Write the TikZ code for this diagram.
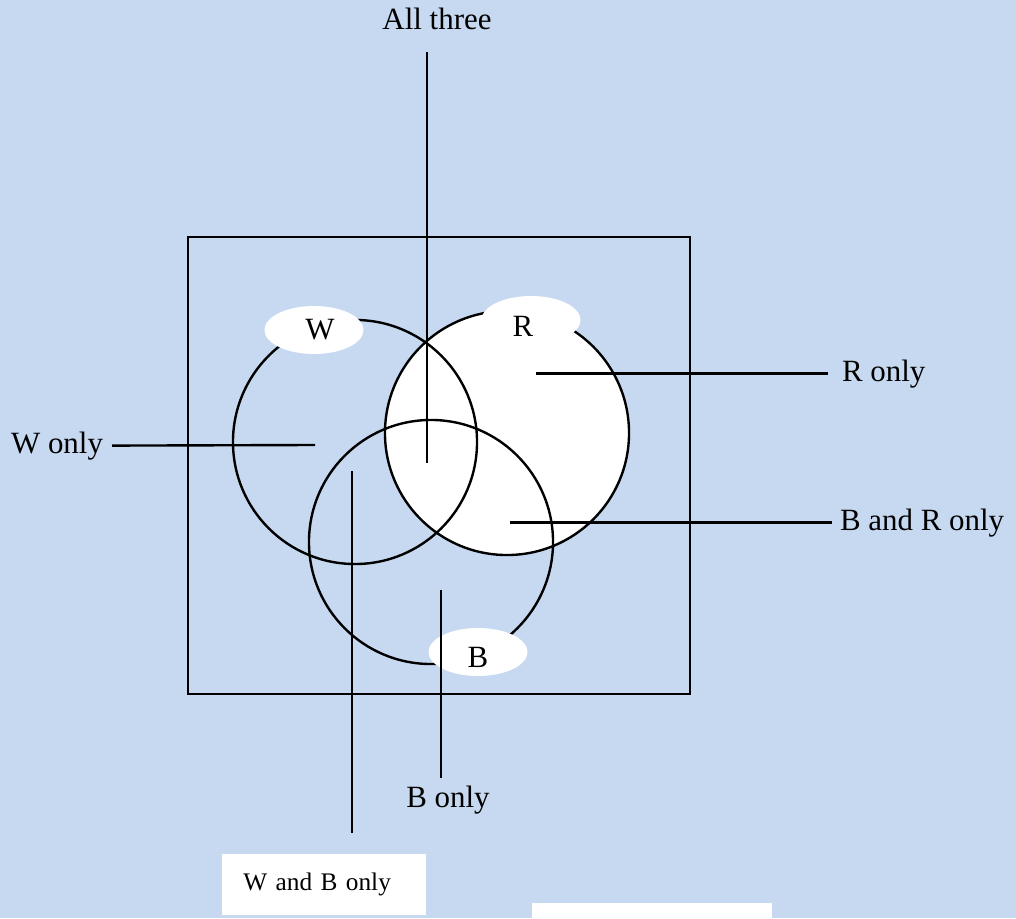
\documentclass[tikz,border=0pt]{standalone}
\usepackage{fontspec}
\setmainfont{Liberation Serif}
\usetikzlibrary{shapes.geometric}
\definecolor{paleblue}{RGB}{198,217,240}

\tikzset{
	lbl/.style={inner sep=0pt, font=\fontsize{22}{26}\selectfont},
	tag/.style={ellipse, fill=white, inner sep=0pt, minimum width=2.475cm, minimum height=1.2cm},
	setc/.style={circle, draw, line width=1.7pt, inner sep=0pt, outer sep=0pt, minimum size=6.1cm},
	lead/.style={line width=1.7pt},
}

\begin{document}
\begin{tikzpicture}[x=0.025cm,y=-0.025cm]
				
				\fill[paleblue] (0,0) rectangle (1016,918);
				\useasboundingbox (0,0) rectangle (1016,918);
				
				\draw[line width=1.7pt] (188,237) rectangle (690,694);
				
				\node[setc,fill=white] (R) at (507,433) {};
				\node[setc] (W) at (355,442) {};
				\node[setc] (B) at (431,542) {};
				
				\node[tag, label={[lbl,xshift=4.3pt]center:W}] (tagW) at (314,330) {};
				\node[tag, label={[lbl,xshift=-5.7pt,yshift=-4.3pt]center:R}] (tagR) at (531,320) {};
				\node[tag, label={[lbl,yshift=-3.5pt]center:B}] (tagB) at (478,652) {};
				
				\coordinate (allIn) at (427,463);
				\coordinate (rIn) at (536,374);
				\coordinate (brIn) at (510,521);
				\coordinate (wIn) at (315,445);
				\coordinate (wbIn) at (352,471);
				\coordinate (bIn) at (441,590);
				
				\node[lbl, anchor=base, outer ysep=15.6pt] (all) at (437,30) {All three};
				\node[lbl, anchor=base west, outer xsep=10pt] (rOnly) at (828,381) {R only};
				\node[lbl, anchor=base west, outer xsep=5.7pt] (brOnly) at (832,530) {B and R only};
				\node[lbl, anchor=base east, outer xsep=6.4pt] (wOnly) at (112,453) {W only};
				\node[lbl, anchor=base, outer ysep=5.7pt] (bOnly) at (448,807) {B only};
				\node[fill=white, inner xsep=14.9pt, inner ysep=0pt, outer ysep=14.9pt, minimum width=5.1cm, minimum height=1.525cm, text width=114.8pt, align=left, font=\fontsize{18}{22}\selectfont] (wbOnly) at (324,884.5) {W and B only};
				
				\fill[white] (532,903) rectangle (772,918);
				
				\draw[lead] (all.south -| allIn) -- (allIn);
				\draw[lead] (rOnly.west) -- (rOnly.west -| rIn);
				\draw[lead] (brOnly.west) -- (brOnly.west -| brIn);
				\draw[lead] (wOnly.east) -- (wIn);
				\draw[lead] (wbOnly.north -| wbIn) -- (wbIn);
				\draw[lead] (bOnly.north -| bIn) -- (bIn);
				
			\end{tikzpicture}
\end{document}
